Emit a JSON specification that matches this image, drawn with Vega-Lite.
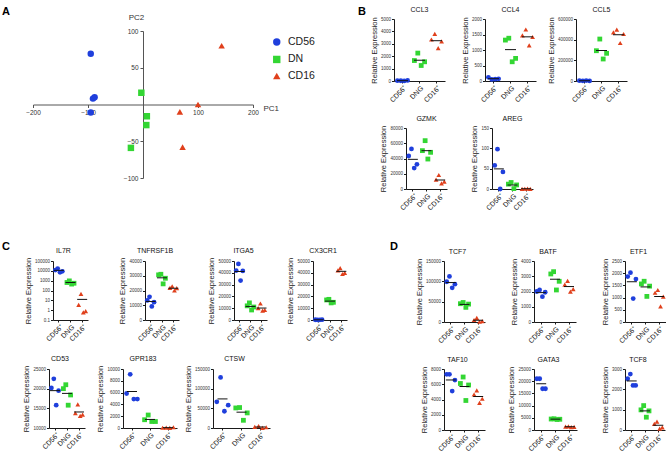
{
"$schema":"https://vega.github.io/schema/vega-lite/v6.json",
"padding":{"left":2,"top":6,"right":0,"bottom":0},
"data":{"values":[]},
"datasets":{
"pca":[
{"pop":"CD56","pc1":-95,"pc2":69},{"pop":"CD56","pc1":-88,"pc2":10},{"pop":"CD56","pc1":-91,"pc2":8},{"pop":"CD56","pc1":-95,"pc2":-11},
{"pop":"DN","pc1":-3,"pc2":16},{"pop":"DN","pc1":7,"pc2":-16},{"pop":"DN","pc1":6,"pc2":-28},{"pop":"DN","pc1":-22,"pc2":-59},
{"pop":"CD16","pc1":143,"pc2":80},{"pop":"CD16","pc1":100,"pc2":0},{"pop":"CD16","pc1":67,"pc2":-10},{"pop":"CD16","pc1":72,"pc2":-58}
],
"expr":[
{"gene":"CCL3","group":"CD56+","donor":2,"value":20},{"gene":"CCL3","group":"CD56+","donor":1,"value":30},{"gene":"CCL3","group":"CD56+","donor":4,"value":50},{"gene":"CCL3","group":"CD56+","donor":3,"value":10},
{"gene":"CCL3","group":"DNG","donor":2,"value":2250},{"gene":"CCL3","group":"DNG","donor":1,"value":1650},{"gene":"CCL3","group":"DNG","donor":4,"value":1550},{"gene":"CCL3","group":"DNG","donor":3,"value":1250},
{"gene":"CCL3","group":"CD16+","donor":2,"value":3800},{"gene":"CCL3","group":"CD16+","donor":1,"value":3350},{"gene":"CCL3","group":"CD16+","donor":4,"value":3200},{"gene":"CCL3","group":"CD16+","donor":3,"value":2650},
{"gene":"CCL4","group":"CD56+","donor":2,"value":50},{"gene":"CCL4","group":"CD56+","donor":1,"value":120},{"gene":"CCL4","group":"CD56+","donor":4,"value":70},{"gene":"CCL4","group":"CD56+","donor":3,"value":60},
{"gene":"CCL4","group":"DNG","donor":2,"value":1380},{"gene":"CCL4","group":"DNG","donor":1,"value":1320},{"gene":"CCL4","group":"DNG","donor":4,"value":730},{"gene":"CCL4","group":"DNG","donor":3,"value":620},
{"gene":"CCL4","group":"CD16+","donor":2,"value":1660},{"gene":"CCL4","group":"CD16+","donor":1,"value":1470},{"gene":"CCL4","group":"CD16+","donor":4,"value":1420},{"gene":"CCL4","group":"CD16+","donor":3,"value":1150},
{"gene":"CCL5","group":"CD56+","donor":2,"value":2000},{"gene":"CCL5","group":"CD56+","donor":1,"value":3000},{"gene":"CCL5","group":"CD56+","donor":4,"value":1000},{"gene":"CCL5","group":"CD56+","donor":3,"value":4000},
{"gene":"CCL5","group":"DNG","donor":2,"value":406000},{"gene":"CCL5","group":"DNG","donor":1,"value":293000},{"gene":"CCL5","group":"DNG","donor":4,"value":268000},{"gene":"CCL5","group":"DNG","donor":3,"value":213000},
{"gene":"CCL5","group":"CD16+","donor":2,"value":497000},{"gene":"CCL5","group":"CD16+","donor":1,"value":471000},{"gene":"CCL5","group":"CD16+","donor":4,"value":455000},{"gene":"CCL5","group":"CD16+","donor":3,"value":368000},
{"gene":"GZMK","group":"CD56+","donor":2,"value":52500},{"gene":"GZMK","group":"CD56+","donor":1,"value":43300},{"gene":"GZMK","group":"CD56+","donor":4,"value":32300},{"gene":"GZMK","group":"CD56+","donor":3,"value":27500},
{"gene":"GZMK","group":"DNG","donor":2,"value":63400},{"gene":"GZMK","group":"DNG","donor":1,"value":50300},{"gene":"GZMK","group":"DNG","donor":4,"value":48100},{"gene":"GZMK","group":"DNG","donor":3,"value":39300},
{"gene":"GZMK","group":"CD16+","donor":2,"value":18400},{"gene":"GZMK","group":"CD16+","donor":1,"value":12200},{"gene":"GZMK","group":"CD16+","donor":4,"value":9600},{"gene":"GZMK","group":"CD16+","donor":3,"value":7400},
{"gene":"AREG","group":"CD56+","donor":2,"value":98},{"gene":"AREG","group":"CD56+","donor":1,"value":58},{"gene":"AREG","group":"CD56+","donor":4,"value":42},{"gene":"AREG","group":"CD56+","donor":3,"value":0},
{"gene":"AREG","group":"DNG","donor":2,"value":16},{"gene":"AREG","group":"DNG","donor":1,"value":12},{"gene":"AREG","group":"DNG","donor":4,"value":10},{"gene":"AREG","group":"DNG","donor":3,"value":1},
{"gene":"AREG","group":"CD16+","donor":2,"value":0.5},{"gene":"AREG","group":"CD16+","donor":1,"value":0.3},{"gene":"AREG","group":"CD16+","donor":4,"value":0.2},{"gene":"AREG","group":"CD16+","donor":3,"value":0.8},
{"gene":"IL7R","group":"CD56+","donor":2,"value":17000},{"gene":"IL7R","group":"CD56+","donor":1,"value":12000},{"gene":"IL7R","group":"CD56+","donor":4,"value":9000},{"gene":"IL7R","group":"CD56+","donor":3,"value":7000},
{"gene":"IL7R","group":"DNG","donor":2,"value":950},{"gene":"IL7R","group":"DNG","donor":1,"value":650},{"gene":"IL7R","group":"DNG","donor":4,"value":550},{"gene":"IL7R","group":"DNG","donor":3,"value":450},
{"gene":"IL7R","group":"CD16+","donor":2,"value":45},{"gene":"IL7R","group":"CD16+","donor":1,"value":3.5},{"gene":"IL7R","group":"CD16+","donor":4,"value":0.8},{"gene":"IL7R","group":"CD16+","donor":3,"value":0.6},
{"gene":"TNFRSF1B","group":"CD56+","donor":2,"value":15700},{"gene":"TNFRSF1B","group":"CD56+","donor":1,"value":13300},{"gene":"TNFRSF1B","group":"CD56+","donor":4,"value":12100},{"gene":"TNFRSF1B","group":"CD56+","donor":3,"value":9200},
{"gene":"TNFRSF1B","group":"DNG","donor":2,"value":31000},{"gene":"TNFRSF1B","group":"DNG","donor":1,"value":30600},{"gene":"TNFRSF1B","group":"DNG","donor":4,"value":28300},{"gene":"TNFRSF1B","group":"DNG","donor":3,"value":24500},
{"gene":"TNFRSF1B","group":"CD16+","donor":2,"value":22900},{"gene":"TNFRSF1B","group":"CD16+","donor":1,"value":21800},{"gene":"TNFRSF1B","group":"CD16+","donor":4,"value":21600},{"gene":"TNFRSF1B","group":"CD16+","donor":3,"value":20000},
{"gene":"ITGA5","group":"CD56+","donor":2,"value":47500},{"gene":"ITGA5","group":"CD56+","donor":1,"value":41900},{"gene":"ITGA5","group":"CD56+","donor":4,"value":41600},{"gene":"ITGA5","group":"CD56+","donor":3,"value":33400},
{"gene":"ITGA5","group":"DNG","donor":2,"value":14500},{"gene":"ITGA5","group":"DNG","donor":1,"value":12000},{"gene":"ITGA5","group":"DNG","donor":4,"value":11000},{"gene":"ITGA5","group":"DNG","donor":3,"value":8500},
{"gene":"ITGA5","group":"CD16+","donor":2,"value":14000},{"gene":"ITGA5","group":"CD16+","donor":1,"value":10000},{"gene":"ITGA5","group":"CD16+","donor":4,"value":8500},{"gene":"ITGA5","group":"CD16+","donor":3,"value":8000},
{"gene":"CX3CR1","group":"CD56+","donor":2,"value":100},{"gene":"CX3CR1","group":"CD56+","donor":1,"value":200},{"gene":"CX3CR1","group":"CD56+","donor":4,"value":300},{"gene":"CX3CR1","group":"CD56+","donor":3,"value":150},
{"gene":"CX3CR1","group":"DNG","donor":2,"value":17500},{"gene":"CX3CR1","group":"DNG","donor":1,"value":17000},{"gene":"CX3CR1","group":"DNG","donor":4,"value":15000},{"gene":"CX3CR1","group":"DNG","donor":3,"value":14500},
{"gene":"CX3CR1","group":"CD16+","donor":2,"value":44000},{"gene":"CX3CR1","group":"CD16+","donor":1,"value":42000},{"gene":"CX3CR1","group":"CD16+","donor":4,"value":40000},{"gene":"CX3CR1","group":"CD16+","donor":3,"value":39000},
{"gene":"CD53","group":"CD56+","donor":2,"value":22500},{"gene":"CD53","group":"CD56+","donor":1,"value":20200},{"gene":"CD53","group":"CD56+","donor":4,"value":19500},{"gene":"CD53","group":"CD56+","donor":3,"value":15800},
{"gene":"CD53","group":"DNG","donor":2,"value":21000},{"gene":"CD53","group":"DNG","donor":1,"value":20000},{"gene":"CD53","group":"DNG","donor":4,"value":18400},{"gene":"CD53","group":"DNG","donor":3,"value":15800},
{"gene":"CD53","group":"CD16+","donor":2,"value":16000},{"gene":"CD53","group":"CD16+","donor":1,"value":13800},{"gene":"CD53","group":"CD16+","donor":4,"value":13400},{"gene":"CD53","group":"CD16+","donor":3,"value":13100},
{"gene":"GPR183","group":"CD56+","donor":2,"value":9100},{"gene":"GPR183","group":"CD56+","donor":1,"value":5850},{"gene":"GPR183","group":"CD56+","donor":4,"value":4900},{"gene":"GPR183","group":"CD56+","donor":3,"value":4900},
{"gene":"GPR183","group":"DNG","donor":2,"value":2200},{"gene":"GPR183","group":"DNG","donor":1,"value":1400},{"gene":"GPR183","group":"DNG","donor":4,"value":1100},{"gene":"GPR183","group":"DNG","donor":3,"value":1100},
{"gene":"GPR183","group":"CD16+","donor":2,"value":60},{"gene":"GPR183","group":"CD16+","donor":1,"value":40},{"gene":"GPR183","group":"CD16+","donor":4,"value":120},{"gene":"GPR183","group":"CD16+","donor":3,"value":30},
{"gene":"CTSW","group":"CD56+","donor":2,"value":128700},{"gene":"CTSW","group":"CD56+","donor":1,"value":66500},{"gene":"CTSW","group":"CD56+","donor":4,"value":58000},{"gene":"CTSW","group":"CD56+","donor":3,"value":42600},
{"gene":"CTSW","group":"DNG","donor":2,"value":52000},{"gene":"CTSW","group":"DNG","donor":1,"value":51000},{"gene":"CTSW","group":"DNG","donor":4,"value":38400},{"gene":"CTSW","group":"DNG","donor":3,"value":19600},
{"gene":"CTSW","group":"CD16+","donor":2,"value":5000},{"gene":"CTSW","group":"CD16+","donor":1,"value":3000},{"gene":"CTSW","group":"CD16+","donor":4,"value":2000},{"gene":"CTSW","group":"CD16+","donor":3,"value":500},
{"gene":"TCF7","group":"CD56+","donor":2,"value":112000},{"gene":"TCF7","group":"CD56+","donor":1,"value":99000},{"gene":"TCF7","group":"CD56+","donor":4,"value":93000},{"gene":"TCF7","group":"CD56+","donor":3,"value":84000},
{"gene":"TCF7","group":"DNG","donor":2,"value":48000},{"gene":"TCF7","group":"DNG","donor":1,"value":45000},{"gene":"TCF7","group":"DNG","donor":4,"value":44000},{"gene":"TCF7","group":"DNG","donor":3,"value":36000},
{"gene":"TCF7","group":"CD16+","donor":2,"value":10000},{"gene":"TCF7","group":"CD16+","donor":1,"value":5000},{"gene":"TCF7","group":"CD16+","donor":4,"value":2000},{"gene":"TCF7","group":"CD16+","donor":3,"value":500},
{"gene":"BATF","group":"CD56+","donor":2,"value":2100},{"gene":"BATF","group":"CD56+","donor":1,"value":2000},{"gene":"BATF","group":"CD56+","donor":4,"value":1950},{"gene":"BATF","group":"CD56+","donor":3,"value":1660},
{"gene":"BATF","group":"DNG","donor":2,"value":3300},{"gene":"BATF","group":"DNG","donor":1,"value":3150},{"gene":"BATF","group":"DNG","donor":4,"value":2670},{"gene":"BATF","group":"DNG","donor":3,"value":2100},
{"gene":"BATF","group":"CD16+","donor":2,"value":2700},{"gene":"BATF","group":"CD16+","donor":1,"value":2450},{"gene":"BATF","group":"CD16+","donor":4,"value":2160},{"gene":"BATF","group":"CD16+","donor":3,"value":1990},
{"gene":"ETF1","group":"CD56+","donor":2,"value":2020},{"gene":"ETF1","group":"CD56+","donor":1,"value":1860},{"gene":"ETF1","group":"CD56+","donor":4,"value":1760},{"gene":"ETF1","group":"CD56+","donor":3,"value":960},
{"gene":"ETF1","group":"DNG","donor":2,"value":1670},{"gene":"ETF1","group":"DNG","donor":1,"value":1560},{"gene":"ETF1","group":"DNG","donor":4,"value":1470},{"gene":"ETF1","group":"DNG","donor":3,"value":1050},
{"gene":"ETF1","group":"CD16+","donor":2,"value":1310},{"gene":"ETF1","group":"CD16+","donor":1,"value":1200},{"gene":"ETF1","group":"CD16+","donor":4,"value":1040},{"gene":"ETF1","group":"CD16+","donor":3,"value":640},
{"gene":"TAF10","group":"CD56+","donor":2,"value":7300},{"gene":"TAF10","group":"CD56+","donor":1,"value":7300},{"gene":"TAF10","group":"CD56+","donor":4,"value":6550},{"gene":"TAF10","group":"CD56+","donor":3,"value":5100},
{"gene":"TAF10","group":"DNG","donor":2,"value":6950},{"gene":"TAF10","group":"DNG","donor":1,"value":6100},{"gene":"TAF10","group":"DNG","donor":4,"value":5900},{"gene":"TAF10","group":"DNG","donor":3,"value":3870},
{"gene":"TAF10","group":"CD16+","donor":2,"value":5200},{"gene":"TAF10","group":"CD16+","donor":1,"value":4660},{"gene":"TAF10","group":"CD16+","donor":4,"value":4100},{"gene":"TAF10","group":"CD16+","donor":3,"value":3560},
{"gene":"GATA3","group":"CD56+","donor":2,"value":21000},{"gene":"GATA3","group":"CD56+","donor":1,"value":21000},{"gene":"GATA3","group":"CD56+","donor":4,"value":16900},{"gene":"GATA3","group":"CD56+","donor":3,"value":16900},
{"gene":"GATA3","group":"DNG","donor":2,"value":4600},{"gene":"GATA3","group":"DNG","donor":1,"value":4500},{"gene":"GATA3","group":"DNG","donor":4,"value":4400},{"gene":"GATA3","group":"DNG","donor":3,"value":4300},
{"gene":"GATA3","group":"CD16+","donor":2,"value":1500},{"gene":"GATA3","group":"CD16+","donor":1,"value":1400},{"gene":"GATA3","group":"CD16+","donor":4,"value":1300},{"gene":"GATA3","group":"CD16+","donor":3,"value":1200},
{"gene":"TCF8","group":"CD56+","donor":2,"value":2750},{"gene":"TCF8","group":"CD56+","donor":1,"value":2520},{"gene":"TCF8","group":"CD56+","donor":4,"value":2190},{"gene":"TCF8","group":"CD56+","donor":3,"value":2190},
{"gene":"TCF8","group":"DNG","donor":2,"value":1200},{"gene":"TCF8","group":"DNG","donor":1,"value":990},{"gene":"TCF8","group":"DNG","donor":4,"value":940},{"gene":"TCF8","group":"DNG","donor":3,"value":630},
{"gene":"TCF8","group":"CD16+","donor":2,"value":410},{"gene":"TCF8","group":"CD16+","donor":1,"value":300},{"gene":"TCF8","group":"CD16+","donor":4,"value":130},{"gene":"TCF8","group":"CD16+","donor":3,"value":70}
]},
"spacing":0,"bounds":"flush",
"resolve":{"scale":{"color":"independent","shape":"independent","xOffset":"independent"}},
"vconcat":[
{"spacing":0,"bounds":"flush","resolve":{"scale":{"color":"independent","shape":"independent","xOffset":"independent"}},
"hconcat":[
 {"spacing":0,"bounds":"flush","resolve":{"scale":{"color":"independent","shape":"independent","xOffset":"independent"}},
 "vconcat":[
  {"width":1,"height":12,"mark":"point","title":{"text":"A","anchor":"start","dx":-31,"offset":-7,"fontSize":11,"fontWeight":"bold","color":"#000","baseline":"alphabetic"}},
  {"width":220,"height":147,"data":{"name":"pca"},"mark":{"type":"point","size":42},"encoding":{
  "x":{"field":"pc1","type":"quantitative","scale":{"domain":[-200,200],"nice":false},"axis":{"offset":-73.5,"values":[-200,-100,100,200],"labelAngle":0,"labelFontSize":6.5,"labelColor":"#333","labelPadding":2,"tickSize":3,"domainColor":"#555","tickColor":"#555","title":"PC1","titleX":230,"titleY":3.5,"titleAlign":"left","titleBaseline":"middle","titleFontSize":8,"titleColor":"#333","titlePadding":0}},
  "y":{"field":"pc2","type":"quantitative","scale":{"domain":[-100,100],"nice":false},"axis":{"offset":-110,"values":[-100,-50,50,100],"labelFontSize":6.5,"labelColor":"#333","labelPadding":2,"tickSize":3,"domainColor":"#555","tickColor":"#555","title":"PC2","titleAngle":0,"titleX":-7,"titleY":-14,"titleAlign":"center","titleBaseline":"middle","titleFontSize":8,"titleColor":"#333"}},
  "color":{"field":"pop","type":"nominal","scale":{"domain":["CD56","DN","CD16"],"range":["#1f3fdc","#33d633","#e0401c"]},"legend":{"title":null,"orient":"none","legendX":238.5,"legendY":5.7,"labelFontSize":10.5,"labelColor":"#222","symbolSize":55,"rowPadding":3.5,"labelOffset":6}},
  "shape":{"field":"pop","type":"nominal","scale":{"domain":["CD56","DN","CD16"],"range":["circle","square","triangle-up"]}}}}
 ]},
 {"width":361,"height":1,"mark":"point","title":{"text":"B","anchor":"start","dx":325,"offset":-7,"fontSize":11,"fontWeight":"bold","color":"#000","baseline":"alphabetic"}},
 {"spacing":0,"bounds":"flush","resolve":{"scale":{"color":"independent","shape":"independent","xOffset":"independent"}},
 "vconcat":[
  {"spacing":40,"bounds":"flush","resolve":{"scale":{"color":"independent","shape":"independent","xOffset":"independent"}},
  "hconcat":[
{"width":51,"height":62,"data":{"name":"expr"},"transform":[{"filter":"datum.gene==='CCL3'"}],"title":"CCL3","encoding":{"x":{"field":"group","type":"nominal","sort":["CD56+","DNG","CD16+"],"scale":{"paddingInner":0,"paddingOuter":0},"axis":{"title":null,"labelExpr":"replace(datum.label,'+','⁺')"}},"y":{"field":"value","type":"quantitative","scale":{"domain":[0,5000],"nice":false,"zero":false},"axis":{"values":[0,1000,2000,3000,4000,5000],"format":"d","title":"Relative Expression"}}},"layer":[{"mark":"point","encoding":{"xOffset":{"field":"donor","type":"nominal","scale":{"type":"point","padding":2.5}},"color":{"field":"group","type":"nominal","legend":null},"shape":{"field":"group","type":"nominal","legend":null}}},{"mark":{"type":"tick","size":11},"encoding":{"y":{"aggregate":"mean","field":"value","type":"quantitative"}}}]},
{"width":51,"height":62,"data":{"name":"expr"},"transform":[{"filter":"datum.gene==='CCL4'"}],"title":"CCL4","encoding":{"x":{"field":"group","type":"nominal","sort":["CD56+","DNG","CD16+"],"scale":{"paddingInner":0,"paddingOuter":0},"axis":{"title":null,"labelExpr":"replace(datum.label,'+','⁺')"}},"y":{"field":"value","type":"quantitative","scale":{"domain":[0,2000],"nice":false,"zero":false},"axis":{"values":[0,500,1000,1500,2000],"format":"d","title":"Relative Expression"}}},"layer":[{"mark":"point","encoding":{"xOffset":{"field":"donor","type":"nominal","scale":{"type":"point","padding":2.5}},"color":{"field":"group","type":"nominal","legend":null},"shape":{"field":"group","type":"nominal","legend":null}}},{"mark":{"type":"tick","size":11},"encoding":{"y":{"aggregate":"mean","field":"value","type":"quantitative"}}}]},
{"width":51,"height":62,"data":{"name":"expr"},"transform":[{"filter":"datum.gene==='CCL5'"}],"title":"CCL5","encoding":{"x":{"field":"group","type":"nominal","sort":["CD56+","DNG","CD16+"],"scale":{"paddingInner":0,"paddingOuter":0},"axis":{"title":null,"labelExpr":"replace(datum.label,'+','⁺')"}},"y":{"field":"value","type":"quantitative","scale":{"domain":[0,600000],"nice":false,"zero":false},"axis":{"values":[0,200000,400000,600000],"format":"d","title":"Relative Expression"}}},"layer":[{"mark":"point","encoding":{"xOffset":{"field":"donor","type":"nominal","scale":{"type":"point","padding":2.5}},"color":{"field":"group","type":"nominal","legend":null},"shape":{"field":"group","type":"nominal","legend":null}}},{"mark":{"type":"tick","size":11},"encoding":{"y":{"aggregate":"mean","field":"value","type":"quantitative"}}}]}
  ]},
  {"width":1,"height":109,"mark":"point"},
  {"spacing":0,"bounds":"flush","resolve":{"scale":{"color":"independent","shape":"independent","xOffset":"independent"}},
  "hconcat":[
{"width":12,"height":1,"mark":"point"},
{"width":41,"height":61,"data":{"name":"expr"},"transform":[{"filter":"datum.gene==='GZMK'"}],"title":"GZMK","encoding":{"x":{"field":"group","type":"nominal","sort":["CD56+","DNG","CD16+"],"scale":{"paddingInner":0,"paddingOuter":0},"axis":{"title":null,"labelExpr":"replace(datum.label,'+','⁺')"}},"y":{"field":"value","type":"quantitative","scale":{"domain":[0,80000],"nice":false,"zero":false},"axis":{"values":[0,20000,40000,60000,80000],"format":"d","title":"Relative Expression"}}},"layer":[{"mark":"point","encoding":{"xOffset":{"field":"donor","type":"nominal","scale":{"type":"point","padding":2.5}},"color":{"field":"group","type":"nominal","legend":null},"shape":{"field":"group","type":"nominal","legend":null}}},{"mark":{"type":"tick","size":10},"encoding":{"y":{"aggregate":"mean","field":"value","type":"quantitative"}}}]},
{"width":45,"height":1,"mark":"point"},
{"width":41,"height":61,"data":{"name":"expr"},"transform":[{"filter":"datum.gene==='AREG'"}],"title":"AREG","encoding":{"x":{"field":"group","type":"nominal","sort":["CD56+","DNG","CD16+"],"scale":{"paddingInner":0,"paddingOuter":0},"axis":{"title":null,"labelExpr":"replace(datum.label,'+','⁺')"}},"y":{"field":"value","type":"quantitative","scale":{"domain":[0,150],"nice":false,"zero":false},"axis":{"values":[0,50,100,150],"format":"d","title":"Relative Expression"}}},"layer":[{"mark":"point","encoding":{"xOffset":{"field":"donor","type":"nominal","scale":{"type":"point","padding":2.5}},"color":{"field":"group","type":"nominal","legend":null},"shape":{"field":"group","type":"nominal","legend":null}}},{"mark":{"type":"tick","size":10},"encoding":{"y":{"aggregate":"mean","field":"value","type":"quantitative"}}}]}
  ]}
 ]}
]},
{"width":1,"height":242,"mark":"point"},
{"spacing":0,"bounds":"flush","resolve":{"scale":{"color":"independent","shape":"independent","xOffset":"independent"}},
"vconcat":[
 {"spacing":0,"bounds":"flush","resolve":{"scale":{"color":"independent","shape":"independent","xOffset":"independent"}},
 "hconcat":[
{"width":20,"height":1,"mark":"point","title":{"text":"C","anchor":"start","dx":-31,"offset":0.5,"fontSize":11,"fontWeight":"bold","color":"#000","baseline":"alphabetic"}},
{"width":35,"height":59,"data":{"name":"expr"},"transform":[{"filter":"datum.gene==='IL7R'"}],"title":{"text":"IL7R","dx":-7},"encoding":{"x":{"field":"group","type":"nominal","sort":["CD56+","DNG","CD16+"],"scale":{"paddingInner":0,"paddingOuter":0},"axis":{"title":null,"labelExpr":"replace(datum.label,'+','⁺')"}},"y":{"field":"value","type":"quantitative","scale":{"type":"log","domain":[0.1,100000],"nice":false},"axis":{"values":[0.1,1,10,100,1000,10000,100000],"format":"~g","title":"Relative Expression"}}},"layer":[{"mark":"point","encoding":{"xOffset":{"field":"donor","type":"nominal","scale":{"type":"point","padding":2.5}},"color":{"field":"group","type":"nominal","legend":null},"shape":{"field":"group","type":"nominal","legend":null}}},{"mark":{"type":"tick","size":10},"encoding":{"y":{"aggregate":"mean","field":"value","type":"quantitative"}}}]},
{"width":57,"height":1,"mark":"point"},
{"width":34,"height":59,"data":{"name":"expr"},"transform":[{"filter":"datum.gene==='TNFRSF1B'"}],"title":{"text":"TNFRSF1B","dx":-7},"encoding":{"x":{"field":"group","type":"nominal","sort":["CD56+","DNG","CD16+"],"scale":{"paddingInner":0,"paddingOuter":0},"axis":{"title":null,"labelExpr":"replace(datum.label,'+','⁺')"}},"y":{"field":"value","type":"quantitative","scale":{"domain":[0,40000],"nice":false,"zero":false},"axis":{"values":[0,10000,20000,30000,40000],"format":"d","title":"Relative Expression"}}},"layer":[{"mark":"point","encoding":{"xOffset":{"field":"donor","type":"nominal","scale":{"type":"point","padding":2.5}},"color":{"field":"group","type":"nominal","legend":null},"shape":{"field":"group","type":"nominal","legend":null}}},{"mark":{"type":"tick","size":10},"encoding":{"y":{"aggregate":"mean","field":"value","type":"quantitative"}}}]},
{"width":55,"height":1,"mark":"point"},
{"width":33,"height":59,"data":{"name":"expr"},"transform":[{"filter":"datum.gene==='ITGA5'"}],"title":{"text":"ITGA5","dx":-7},"encoding":{"x":{"field":"group","type":"nominal","sort":["CD56+","DNG","CD16+"],"scale":{"paddingInner":0,"paddingOuter":0},"axis":{"title":null,"labelExpr":"replace(datum.label,'+','⁺')"}},"y":{"field":"value","type":"quantitative","scale":{"domain":[0,50000],"nice":false,"zero":false},"axis":{"values":[0,10000,20000,30000,40000,50000],"format":"d","title":"Relative Expression"}}},"layer":[{"mark":"point","encoding":{"xOffset":{"field":"donor","type":"nominal","scale":{"type":"point","padding":2.5}},"color":{"field":"group","type":"nominal","legend":null},"shape":{"field":"group","type":"nominal","legend":null}}},{"mark":{"type":"tick","size":10},"encoding":{"y":{"aggregate":"mean","field":"value","type":"quantitative"}}}]},
{"width":46,"height":1,"mark":"point"},
{"width":34,"height":59,"data":{"name":"expr"},"transform":[{"filter":"datum.gene==='CX3CR1'"}],"title":{"text":"CX3CR1","dx":-7},"encoding":{"x":{"field":"group","type":"nominal","sort":["CD56+","DNG","CD16+"],"scale":{"paddingInner":0,"paddingOuter":0},"axis":{"title":null,"labelExpr":"replace(datum.label,'+','⁺')"}},"y":{"field":"value","type":"quantitative","scale":{"domain":[0,50000],"nice":false,"zero":false},"axis":{"values":[0,10000,20000,30000,40000,50000],"format":"d","title":"Relative Expression"}}},"layer":[{"mark":"point","encoding":{"xOffset":{"field":"donor","type":"nominal","scale":{"type":"point","padding":2.5}},"color":{"field":"group","type":"nominal","legend":null},"shape":{"field":"group","type":"nominal","legend":null}}},{"mark":{"type":"tick","size":10},"encoding":{"y":{"aggregate":"mean","field":"value","type":"quantitative"}}}]},
{"width":97,"height":1,"mark":"point","title":{"text":"D","anchor":"start","dx":43,"offset":0.5,"fontSize":11,"fontWeight":"bold","color":"#000","baseline":"alphabetic"}},
{"width":41,"height":61,"data":{"name":"expr"},"transform":[{"filter":"datum.gene==='TCF7'"}],"title":{"text":"TCF7","dx":-7},"encoding":{"x":{"field":"group","type":"nominal","sort":["CD56+","DNG","CD16+"],"scale":{"paddingInner":0,"paddingOuter":0},"axis":{"title":null,"labelExpr":"replace(datum.label,'+','⁺')"}},"y":{"field":"value","type":"quantitative","scale":{"domain":[0,150000],"nice":false,"zero":false},"axis":{"values":[0,50000,100000,150000],"format":"d","title":"Relative Expression"}}},"layer":[{"mark":"point","encoding":{"xOffset":{"field":"donor","type":"nominal","scale":{"type":"point","padding":2.5}},"color":{"field":"group","type":"nominal","legend":null},"shape":{"field":"group","type":"nominal","legend":null}}},{"mark":{"type":"tick","size":10},"encoding":{"y":{"aggregate":"mean","field":"value","type":"quantitative"}}}]},
{"width":49,"height":1,"mark":"point"},
{"width":42,"height":61,"data":{"name":"expr"},"transform":[{"filter":"datum.gene==='BATF'"}],"title":{"text":"BATF","dx":-7},"encoding":{"x":{"field":"group","type":"nominal","sort":["CD56+","DNG","CD16+"],"scale":{"paddingInner":0,"paddingOuter":0},"axis":{"title":null,"labelExpr":"replace(datum.label,'+','⁺')"}},"y":{"field":"value","type":"quantitative","scale":{"domain":[0,4000],"nice":false,"zero":false},"axis":{"values":[0,1000,2000,3000,4000],"format":"d","title":"Relative Expression"}}},"layer":[{"mark":"point","encoding":{"xOffset":{"field":"donor","type":"nominal","scale":{"type":"point","padding":2.5}},"color":{"field":"group","type":"nominal","legend":null},"shape":{"field":"group","type":"nominal","legend":null}}},{"mark":{"type":"tick","size":10},"encoding":{"y":{"aggregate":"mean","field":"value","type":"quantitative"}}}]},
{"width":49,"height":1,"mark":"point"},
{"width":41,"height":61,"data":{"name":"expr"},"transform":[{"filter":"datum.gene==='ETF1'"}],"title":{"text":"ETF1","dx":-7},"encoding":{"x":{"field":"group","type":"nominal","sort":["CD56+","DNG","CD16+"],"scale":{"paddingInner":0,"paddingOuter":0},"axis":{"title":null,"labelExpr":"replace(datum.label,'+','⁺')"}},"y":{"field":"value","type":"quantitative","scale":{"domain":[0,2500],"nice":false,"zero":false},"axis":{"values":[0,500,1000,1500,2000,2500],"format":"d","title":"Relative Expression"}}},"layer":[{"mark":"point","encoding":{"xOffset":{"field":"donor","type":"nominal","scale":{"type":"point","padding":2.5}},"color":{"field":"group","type":"nominal","legend":null},"shape":{"field":"group","type":"nominal","legend":null}}},{"mark":{"type":"tick","size":10},"encoding":{"y":{"aggregate":"mean","field":"value","type":"quantitative"}}}]}
 ]},
 {"width":1,"height":108,"mark":"point"},
 {"spacing":0,"bounds":"flush","resolve":{"scale":{"color":"independent","shape":"independent","xOffset":"independent"}},
 "hconcat":[
{"width":16,"height":1,"mark":"point"},
{"width":36,"height":59,"data":{"name":"expr"},"transform":[{"filter":"datum.gene==='CD53'"}],"title":{"text":"CD53","dx":-7},"encoding":{"x":{"field":"group","type":"nominal","sort":["CD56+","DNG","CD16+"],"scale":{"paddingInner":0,"paddingOuter":0},"axis":{"title":null,"labelExpr":"replace(datum.label,'+','⁺')"}},"y":{"field":"value","type":"quantitative","scale":{"domain":[10000,25000],"nice":false,"zero":false},"axis":{"values":[10000,15000,20000,25000],"format":"d","title":"Relative Expression"}}},"layer":[{"mark":"point","encoding":{"xOffset":{"field":"donor","type":"nominal","scale":{"type":"point","padding":2.5}},"color":{"field":"group","type":"nominal","legend":null},"shape":{"field":"group","type":"nominal","legend":null}}},{"mark":{"type":"tick","size":10},"encoding":{"y":{"aggregate":"mean","field":"value","type":"quantitative"}}}]},
{"width":38,"height":1,"mark":"point"},
{"width":54,"height":59,"data":{"name":"expr"},"transform":[{"filter":"datum.gene==='GPR183'"}],"title":{"text":"GPR183","dx":-7},"encoding":{"x":{"field":"group","type":"nominal","sort":["CD56+","DNG","CD16+"],"scale":{"paddingInner":0,"paddingOuter":0},"axis":{"title":null,"labelExpr":"replace(datum.label,'+','⁺')"}},"y":{"field":"value","type":"quantitative","scale":{"domain":[0,10000],"nice":false,"zero":false},"axis":{"values":[0,2000,4000,6000,8000,10000],"format":"d","title":"Relative Expression"}}},"layer":[{"mark":"point","encoding":{"xOffset":{"field":"donor","type":"nominal","scale":{"type":"point","padding":2.5}},"color":{"field":"group","type":"nominal","legend":null},"shape":{"field":"group","type":"nominal","legend":null}}},{"mark":{"type":"tick","size":10},"encoding":{"y":{"aggregate":"mean","field":"value","type":"quantitative"}}}]},
{"width":36,"height":1,"mark":"point"},
{"width":57,"height":59,"data":{"name":"expr"},"transform":[{"filter":"datum.gene==='CTSW'"}],"title":{"text":"CTSW","dx":-7},"encoding":{"x":{"field":"group","type":"nominal","sort":["CD56+","DNG","CD16+"],"scale":{"paddingInner":0,"paddingOuter":0},"axis":{"title":null,"labelExpr":"replace(datum.label,'+','⁺')"}},"y":{"field":"value","type":"quantitative","scale":{"domain":[0,150000],"nice":false,"zero":false},"axis":{"values":[0,50000,100000,150000],"format":"d","title":"Relative Expression"}}},"layer":[{"mark":"point","encoding":{"xOffset":{"field":"donor","type":"nominal","scale":{"type":"point","padding":2.5}},"color":{"field":"group","type":"nominal","legend":null},"shape":{"field":"group","type":"nominal","legend":null}}},{"mark":{"type":"tick","size":10},"encoding":{"y":{"aggregate":"mean","field":"value","type":"quantitative"}}}]},
{"width":174,"height":1,"mark":"point"},
{"width":41,"height":61,"data":{"name":"expr"},"transform":[{"filter":"datum.gene==='TAF10'"}],"title":{"text":"TAF10","dx":-7},"encoding":{"x":{"field":"group","type":"nominal","sort":["CD56+","DNG","CD16+"],"scale":{"paddingInner":0,"paddingOuter":0},"axis":{"title":null,"labelExpr":"replace(datum.label,'+','⁺')"}},"y":{"field":"value","type":"quantitative","scale":{"domain":[0,8000],"nice":false,"zero":false},"axis":{"values":[0,2000,4000,6000,8000],"format":"d","title":"Relative Expression"}}},"layer":[{"mark":"point","encoding":{"xOffset":{"field":"donor","type":"nominal","scale":{"type":"point","padding":2.5}},"color":{"field":"group","type":"nominal","legend":null},"shape":{"field":"group","type":"nominal","legend":null}}},{"mark":{"type":"tick","size":10},"encoding":{"y":{"aggregate":"mean","field":"value","type":"quantitative"}}}]},
{"width":49,"height":1,"mark":"point"},
{"width":43,"height":61,"data":{"name":"expr"},"transform":[{"filter":"datum.gene==='GATA3'"}],"title":{"text":"GATA3","dx":-7},"encoding":{"x":{"field":"group","type":"nominal","sort":["CD56+","DNG","CD16+"],"scale":{"paddingInner":0,"paddingOuter":0},"axis":{"title":null,"labelExpr":"replace(datum.label,'+','⁺')"}},"y":{"field":"value","type":"quantitative","scale":{"domain":[0,25000],"nice":false,"zero":false},"axis":{"values":[0,5000,10000,15000,20000,25000],"format":"d","title":"Relative Expression"}}},"layer":[{"mark":"point","encoding":{"xOffset":{"field":"donor","type":"nominal","scale":{"type":"point","padding":2.5}},"color":{"field":"group","type":"nominal","legend":null},"shape":{"field":"group","type":"nominal","legend":null}}},{"mark":{"type":"tick","size":10},"encoding":{"y":{"aggregate":"mean","field":"value","type":"quantitative"}}}]},
{"width":48,"height":1,"mark":"point"},
{"width":40,"height":61,"data":{"name":"expr"},"transform":[{"filter":"datum.gene==='TCF8'"}],"title":{"text":"TCF8","dx":-7},"encoding":{"x":{"field":"group","type":"nominal","sort":["CD56+","DNG","CD16+"],"scale":{"paddingInner":0,"paddingOuter":0},"axis":{"title":null,"labelExpr":"replace(datum.label,'+','⁺')"}},"y":{"field":"value","type":"quantitative","scale":{"domain":[0,3000],"nice":false,"zero":false},"axis":{"values":[0,1000,2000,3000],"format":"d","title":"Relative Expression"}}},"layer":[{"mark":"point","encoding":{"xOffset":{"field":"donor","type":"nominal","scale":{"type":"point","padding":2.5}},"color":{"field":"group","type":"nominal","legend":null},"shape":{"field":"group","type":"nominal","legend":null}}},{"mark":{"type":"tick","size":10},"encoding":{"y":{"aggregate":"mean","field":"value","type":"quantitative"}}}]}
 ]}
]}
],
"config":{
"font":"Liberation Sans",
"view":{"stroke":null},
"range":{"category":["#e0401c","#1f3fdc","#33d633"],"symbol":["triangle-up","circle","square"]},
"point":{"filled":true,"size":23,"opacity":1},
"tick":{"thickness":1,"color":"#111"},
"axis":{"grid":false,"domainColor":"#1a1a1a","tickColor":"#1a1a1a","labelFlush":false,"labelOverlap":false,"titleFontWeight":"normal"},
"axisY":{"labelFontSize":4.5,"labelColor":"#333","tickSize":2.5,"labelPadding":1,"titleFontSize":7.5,"titleColor":"#222","titlePadding":2},
"axisX":{"labelFontSize":7,"labelAngle":-45,"labelColor":"#111","tickSize":2,"labelPadding":1},
"title":{"fontSize":7,"fontWeight":"normal","color":"#111","offset":3}
}
}
